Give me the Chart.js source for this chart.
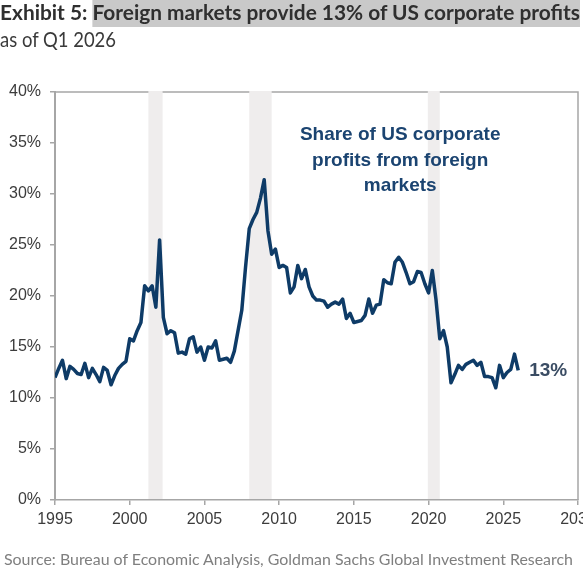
<!DOCTYPE html>
<html>
<head>
<meta charset="utf-8">
<title>Exhibit 5</title>
<script src="https://cdn.jsdelivr.net/npm/chart.js@4.4.1/dist/chart.umd.min.js"></script>
<style>
    html, body { margin: 0; padding: 0; background: #fff; overflow: hidden; }
    #wrap { position: relative; width: 583px; height: 572px; }
    #chart { position: absolute; left: 0; top: 0; }
    .txt { position: absolute; white-space: nowrap; font-family: Lato, "Noto Sans", sans-serif; transform-origin: 0 0; }
    #title { left: 0; top: -3px; font-size: 21px; font-weight: 700; color: #2f2f2f; line-height: 30px; }
    #title span { display: inline-block; background: #c9c9c9; line-height: 30px; }
    #subtitle { left: 0; top: 28px; font-size: 21px; color: #3a3a3a; line-height: 21px; }
    #source { left: 4px; top: 552px; font-size: 15px; color: #7f7f7f; line-height: 15px; }
</style>
</head>
<body>
<div id="wrap">
    <canvas id="chart" width="583" height="572"></canvas>
    <div class="txt" id="title">Exhibit 5: <span>Foreign markets provide 13% of US corporate profits</span></div>
    <div class="txt" id="subtitle">as of Q1 2026</div>
    <div class="txt" id="source">Source: Bureau of Economic Analysis, Goldman Sachs Global Investment Research</div>
</div>
<script>
// Share of US corporate profits from foreign markets, quarterly, 1995 Q1 - 2026 Q1 (%)
const startYear = 1995;
const foreignShare = [
    12.0, 12.9, 13.7, 11.9,   // 1995
    13.1, 12.8, 12.4, 12.3,   // 1996
    13.4, 12.0, 12.9, 12.3,   // 1997
    11.6, 13.0, 12.7, 11.3,   // 1998
    12.2, 12.9, 13.3, 13.6,   // 1999
    15.8, 15.6, 16.6, 17.4,   // 2000
    21.0, 20.5, 21.0, 18.9,   // 2001
    25.5, 17.9, 16.3, 16.6,   // 2002
    16.4, 14.4, 14.5, 14.3,   // 2003
    15.8, 16.0, 14.5, 15.0,   // 2004
    13.7, 15.0, 14.9, 15.6,   // 2005
    13.7, 13.8, 13.9, 13.5,   // 2006
    14.6, 16.6, 18.6, 22.8,   // 2007
    26.6, 27.5, 28.2, 29.6,   // 2008
    31.4, 26.4, 24.1, 24.6,   // 2009
    22.8, 23.0, 22.8, 20.3,   // 2010
    20.9, 23.0, 21.7, 22.6,   // 2011
    20.9, 20.0, 19.6, 19.6,   // 2012
    19.5, 18.9, 19.2, 19.4,   // 2013
    19.2, 19.7, 17.8, 18.3,   // 2014
    17.4, 17.5, 17.6, 18.1,   // 2015
    19.7, 18.3, 19.1, 19.2,   // 2016
    21.6, 21.3, 21.2, 23.3,   // 2017
    23.8, 23.3, 22.3, 21.2,   // 2018
    21.4, 22.4, 22.3, 21.2,   // 2019
    20.3, 22.5, 19.6, 15.8,   // 2020
    16.6, 15.0, 11.5, 12.3,   // 2021
    13.2, 12.8, 13.3, 13.5,   // 2022
    13.7, 13.2, 13.5, 12.1,   // 2023
    12.1, 12.0, 11.0, 13.2,   // 2024
    12.0, 12.5, 12.8, 14.3,   // 2025
    12.7                      // 2026
];

// recessions (shaded)
const recessionStart = [2001.25, 2008.0, 2019.95];
const recessionEnd = [2002.2, 2009.5, 2020.75];

// axes
const xTickYears = [1995, 2000, 2005, 2010, 2015, 2020, 2025, 2030];
const yTickValues = [0, 5, 10, 15, 20, 25, 30, 35, 40];

// labels
const noteLines = ['Share of US corporate', 'profits from foreign', 'markets'];
const noteAt = { year: 2018.1, pct: 35.8 };
const lastLabel = '13%';

const navy = '#0e3b67';
const axisGray = '#a6a6a6';
const tickFont = { family: '"Liberation Sans", Arial, sans-serif', size: 16 };

const points = foreignShare.map((v, i) => ({ x: startYear + i / 4, y: v }));

// fit header/footer texts to the reference widths
function fitWidth(id, target) {
    const el = document.getElementById(id);
    const w = el.getBoundingClientRect().width;
    el.style.transform = 'scaleX(' + (target / w) + ')';
}
fitWidth('title', 580);
fitWidth('subtitle', 116);
fitWidth('source', 569);

const decorations = {
    id: 'decorations',
    beforeDatasetsDraw(chart) {
        const { ctx, chartArea: a, scales: { x } } = chart;
        ctx.save();
        // top and right frame
        ctx.strokeStyle = axisGray;
        ctx.lineWidth = 1.5;
        ctx.beginPath();
        ctx.moveTo(a.left, a.top);
        ctx.lineTo(a.right, a.top);
        ctx.lineTo(a.right, a.bottom);
        ctx.stroke();
        // recession bands
        ctx.fillStyle = '#efeded';
        recessionStart.forEach((s, i) => {
            const x0 = x.getPixelForValue(s);
            const x1 = x.getPixelForValue(recessionEnd[i]);
            ctx.fillRect(x0, a.top - 1, x1 - x0, a.bottom - a.top);
        });
        ctx.restore();
    },
    afterDatasetsDraw(chart) {
        const { ctx, scales: { x, y } } = chart;
        ctx.save();
        ctx.font = 'bold 19px "Liberation Sans", Arial, sans-serif';
        ctx.fillStyle = '#1b4471';
        ctx.textAlign = 'center';
        ctx.textBaseline = 'middle';
        const cx = x.getPixelForValue(noteAt.year);
        const cy = y.getPixelForValue(noteAt.pct);
        noteLines.forEach((line, i) => ctx.fillText(line, cx, cy + i * 25.5));

        // end value label
        const last = points[points.length - 1];
        ctx.textAlign = 'left';
        ctx.fillStyle = '#3a4c63';
        ctx.fillText(lastLabel, x.getPixelForValue(last.x) + 11, y.getPixelForValue(last.y));
        ctx.restore();
    }
};

new Chart(document.getElementById('chart'), {
    type: 'line',
    data: {
        datasets: [{
            data: points,
            borderColor: navy,
            borderWidth: 3.5,
            pointRadius: 0,
            tension: 0,
            borderJoinStyle: 'round',
            fill: false
        }]
    },
    options: {
        responsive: false,
        animation: false,
        events: [],
        layout: { padding: { top: 92, right: 5, left: 0, bottom: 0 } },
        plugins: { legend: { display: false }, tooltip: { enabled: false } },
        scales: {
            x: {
                type: 'linear',
                min: 1995,
                max: 2030,
                afterBuildTicks: s => { s.ticks = xTickYears.map(v => ({ value: v })); },
                afterFit: s => { s.height = 72; s.paddingLeft = 0; s.paddingRight = 0; },
                ticks: {
                    autoSkip: false,
                    maxRotation: 0,
                    padding: 5,
                    color: '#3c3c3c',
                    font: tickFont,
                    callback: v => String(v)
                },
                grid: { drawOnChartArea: false, drawTicks: true, tickLength: 5, color: axisGray, lineWidth: 1.5 },
                border: { display: true, color: axisGray, width: 1.5 }
            },
            y: {
                min: 0,
                max: 40,
                afterBuildTicks: s => { s.ticks = yTickValues.map(v => ({ value: v })); },
                afterFit: s => { s.width = 55; },
                ticks: {
                    padding: 9,
                    color: '#3c3c3c',
                    font: tickFont,
                    callback: v => v + '%'
                },
                grid: { drawOnChartArea: false, drawTicks: true, tickLength: 5, color: axisGray, lineWidth: 1.5 },
                border: { display: true, color: axisGray, width: 2 }
            }
        }
    },
    plugins: [decorations]
});
</script>
</body>
</html>
